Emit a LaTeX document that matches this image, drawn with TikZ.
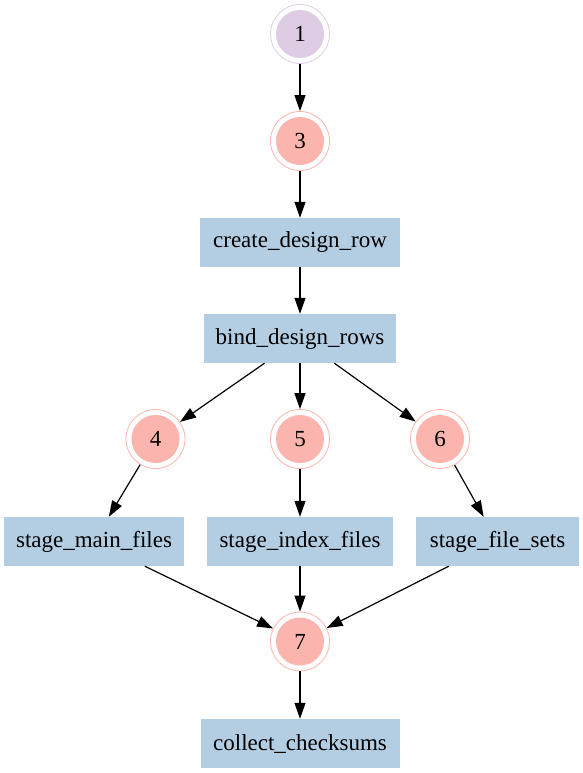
\documentclass[tikz,border=0pt]{standalone}
\usepackage{fontspec}
\setmainfont{Liberation Serif}
\usetikzlibrary{arrows.meta}
\definecolor{stepblue}{HTML}{B3CDE3}
\definecolor{stateping}{HTML}{FBB4AE}
\definecolor{startlav}{HTML}{DECBE4}
\begin{document}
\begin{tikzpicture}[x=1pt,y=-1pt,
  font=\fontsize{23}{27}\selectfont,
  task/.style={rectangle, fill=stepblue, draw=none, minimum height=49pt, inner sep=0pt},
  ring/.style={circle, draw=#1, line width=0.8pt, fill=white, minimum size=59pt, inner sep=0pt,
    path picture={\fill[#1] (path picture bounding box.center) circle (24pt);}},
  flow/.style={line width=1.2pt, -{Triangle[length=16pt,width=11pt]}}]
\useasboundingbox (0,0) rectangle (583,773);

% start and intermediate states
\node[ring=startlav] (n1) at (300,34) {1};
\node[ring=stateping] (n3) at (300,141) {3};

% first tasks
\node[task, minimum width=200pt] (create) at (300,242.5) {create\_design\_row};
\node[task, minimum width=192pt] (bind) at (300,338.5) {bind\_design\_rows};

% fan-out states
\node[ring=stateping] (n4) at (155.5,439) {4};
\node[ring=stateping] (n5) at (300,439) {5};
\node[ring=stateping] (n6) at (440,439) {6};

% staging tasks
\node[task, minimum width=180pt] (main) at (94,541.5) {stage\_main\_files};
\node[task, minimum width=186pt] (index) at (300,541.5) {stage\_index\_files};
\node[task, minimum width=163pt] (sets) at (497.5,541.5) {stage\_file\_sets};

% join state and final task
\node[ring=stateping] (n7) at (300,641.5) {7};
\node[task, minimum width=199pt] (collect) at (300,743.5) {collect\_checksums};

% connectors
\draw[flow] (n1) -- (n3);
\draw[flow] (n3) -- (create);
\draw[flow] (create) -- (bind);
\draw[flow] (bind) -- (n4);
\draw[flow] (bind) -- (n5);
\draw[flow] (bind) -- (n6);
\draw[flow] (n4) -- (main);
\draw[flow] (n5) -- (index);
\draw[flow] (n6) -- (sets);
\draw[flow] (main) -- (n7);
\draw[flow] (index) -- (n7);
\draw[flow] (sets) -- (n7);
\draw[flow] (n7) -- (collect);
\end{tikzpicture}
\end{document}
